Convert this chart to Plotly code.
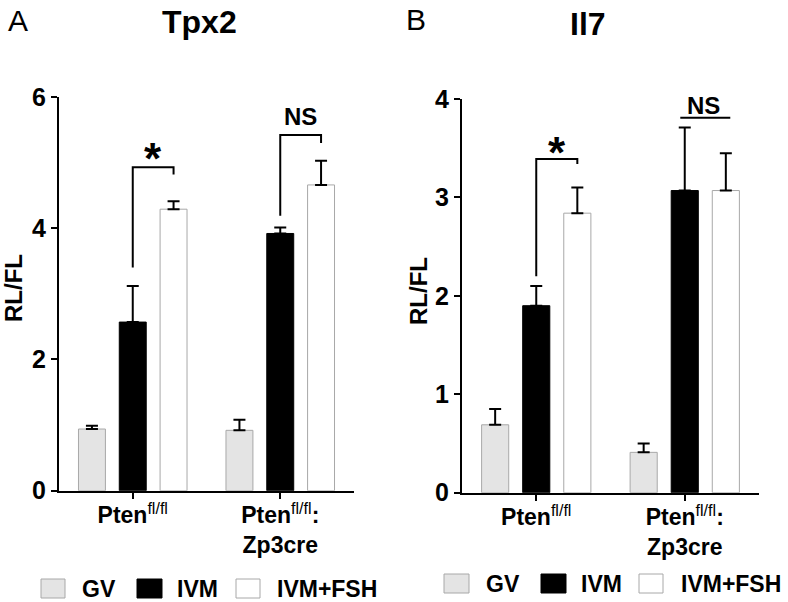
import plotly.graph_objects as go

W, H = 788, 602

# ---------------- data ----------------
groups = ["Pten<sup><span style='font-weight:normal'>fl/fl</span></sup>",
          "Pten<sup><span style='font-weight:normal'>fl/fl</span></sup>:<br>Zp3cre"]
series = ["GV", "IVM", "IVM+FSH"]

tpx2_gv = [0.94, 0.92]
tpx2_ivm = [2.57, 3.92]
tpx2_fsh = [4.29, 4.66]
tpx2_gv_err = [0.05, 0.16]
tpx2_ivm_err = [0.55, 0.09]
tpx2_fsh_err = [0.12, 0.37]

il7_gv = [0.69, 0.41]
il7_ivm = [1.90, 3.07]
il7_fsh = [2.84, 3.07]
il7_gv_err = [0.16, 0.09]
il7_ivm_err = [0.20, 0.64]
il7_fsh_err = [0.26, 0.38]

fills = ["#e4e4e4", "#000000", "#ffffff"]
outlines = ["#a8a8a8", "#000000", "#a8a8a8"]

# ---------------- helpers ----------------
def px(x):
    return x / W

def py(y):
    return 1 - y / H

BARGAP = 0.17
STEP = (1 - BARGAP) / 3  # distance between neighbouring bars in a group

fig = go.Figure()

panels = [
    dict(x="x", y="y", vals=[tpx2_gv, tpx2_ivm, tpx2_fsh],
         errs=[tpx2_gv_err, tpx2_ivm_err, tpx2_fsh_err]),
    dict(x="x2", y="y2", vals=[il7_gv, il7_ivm, il7_fsh],
         errs=[il7_gv_err, il7_ivm_err, il7_fsh_err]),
]

for p in panels:
    for i, name in enumerate(series):
        fig.add_trace(go.Bar(
            x=groups, y=p["vals"][i], name=name,
            xaxis=p["x"], yaxis=p["y"],
            marker=dict(color=fills[i], line=dict(color=outlines[i], width=1)),
            error_y=dict(type="data", array=p["errs"][i], arrayminus=[0] * len(groups),
                         symmetric=False, color="black", thickness=2, width=6),
            showlegend=False,
        ))

axis_common = dict(showline=True, linewidth=2, linecolor="black", ticks="outside",
                   ticklen=6, tickwidth=2, tickcolor="black", showgrid=False,
                   zeroline=False, mirror=False, automargin=False)

xfont = dict(size=23, weight="bold")
yfont = dict(size=25, weight="bold")

fig.update_layout(
    width=W, height=H,
    margin=dict(l=0, r=0, t=0, b=0, pad=0),
    paper_bgcolor="white", plot_bgcolor="white",
    barmode="group", bargap=BARGAP, bargroupgap=0.34,
    font=dict(family="Liberation Sans, Arial", color="black"),
    xaxis=dict(domain=[px(59), px(354)], anchor="y", range=[-0.5, 1.5],
               tickfont=xfont, ticklabelstandoff=-3, **axis_common),
    yaxis=dict(domain=[py(490.7), py(97)], anchor="x", range=[0, 6],
               tickvals=[0, 2, 4, 6], tickfont=yfont, **axis_common),
    xaxis2=dict(domain=[px(462), px(759)], anchor="y2", range=[-0.5, 1.5],
                tickfont=xfont, ticklabelstandoff=-3, **axis_common),
    yaxis2=dict(domain=[py(492.7), py(99)], anchor="x2", range=[0, 4],
                tickvals=[0, 1, 2, 3, 4], tickfont=yfont, **axis_common),
)

shapes = []
annotations = []

# significance brackets: (xref, yref, group index, left-leg bottom, top, right-leg bottom)
brackets = [("x", "y", 0, 3.40, 4.93, 4.82), ("x", "y", 1, 4.19, 5.42, 5.30),
            ("x2", "y2", 0, 2.20, 3.39, 3.34)]
for xr, yr, g, lb, top, rb in brackets:
    x0, x1 = g, g + STEP
    shapes.append(dict(type="path", xref=xr, yref=yr,
                       path=f"M {x0} {lb} L {x0} {top} L {x1} {top} L {x1} {rb}",
                       line=dict(color="black", width=2)))
# NS underline for panel B
shapes.append(dict(type="line", xref="x2", yref="y2", x0=1 - 0.03, x1=1 + STEP + 0.03,
                   y0=3.81, y1=3.81, line=dict(color="black", width=2)))

def ann(text, x, y, size, bold=True, **kw):
    d = dict(text=text, x=px(x), y=py(y), xref="paper", yref="paper", showarrow=False,
             xanchor="center", yanchor="middle",
             font=dict(size=size, weight="bold" if bold else "normal", color="black"))
    d.update(kw)
    annotations.append(d)

# panel letters and titles
ann("A", 17.5, 21, 30, bold=False)
ann("B", 415.5, 20, 30, bold=False)
ann("Tpx2", 199, 22, 32)
ann("Il7", 588, 24.5, 32)
# y titles
ann("RL/FL", 13, 288, 24, textangle=-90)
ann("RL/FL", 418, 291, 24, textangle=-90)
# significance labels
ann("*", 152.5, 158, 44)
ann("*", 557, 153, 44)
ann("NS", 300.5, 116, 24)
ann("NS", 703.5, 105.5, 24)

# manual legends
legends = [
    (588.5, [(41, 65, 80), (137, 162, 175), (236, 260, 275)]),
    (583.5, [(444, 469, 484), (541, 566, 579), (639, 663, 679)]),
]
for yc, items in legends:
    for i, (sx0, sx1, tx) in enumerate(items):
        shapes.append(dict(type="rect", xref="paper", yref="paper",
                           x0=px(sx0), x1=px(sx1), y0=py(yc + 9.5), y1=py(yc - 9.5),
                           fillcolor=fills[i], line=dict(color=outlines[i], width=1)))
        ann(series[i], tx, yc, 23, xanchor="left")

fig.update_layout(shapes=shapes, annotations=annotations)
fig.write_html(
    "out.html",
    config={"displayModeBar": False, "responsive": False},
    post_script="document.documentElement.style.margin='0';document.body.style.margin='0';"
                "document.body.style.padding='0';document.body.style.overflow='hidden';",
)
